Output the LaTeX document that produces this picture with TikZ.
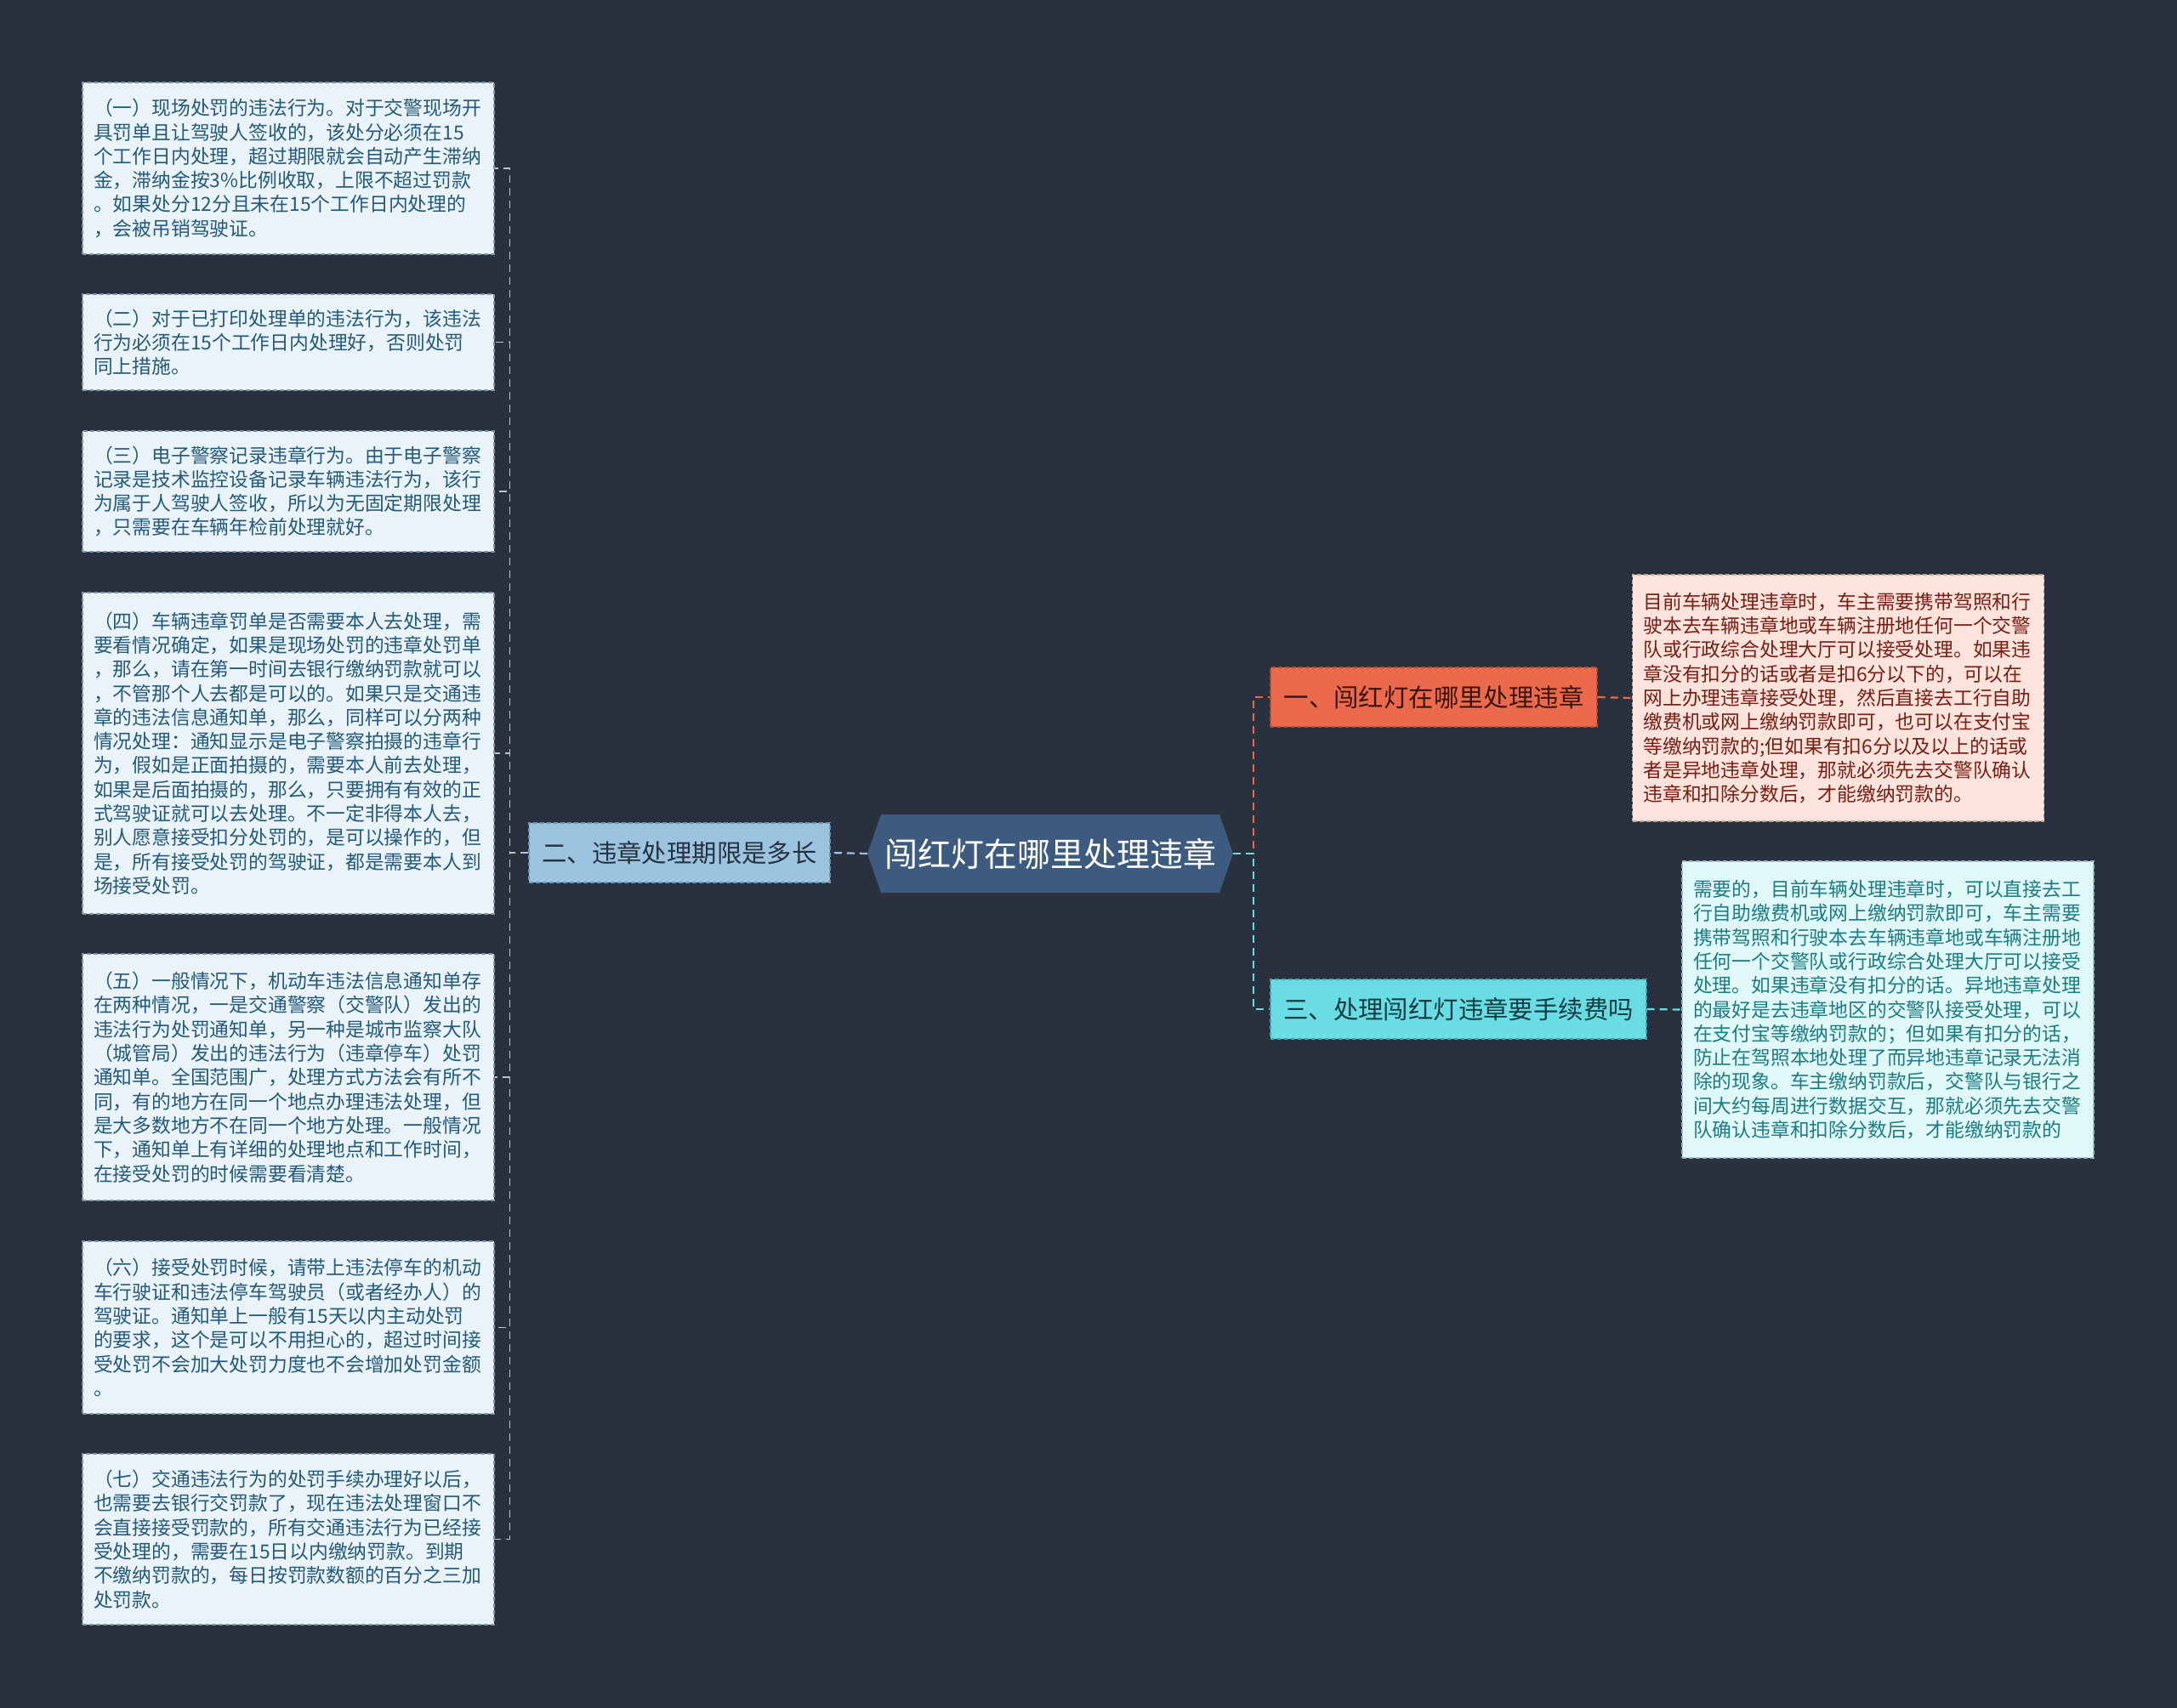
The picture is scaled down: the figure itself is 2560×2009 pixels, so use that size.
\documentclass[tikz,border=0pt]{standalone}
\usepackage{fontspec}
\setmainfont{Noto Sans CJK SC}
\definecolor{bg}{HTML}{29313F}
\definecolor{rootfill}{HTML}{3D5A7F}
\definecolor{bluefill}{HTML}{9CC3DF}
\definecolor{blueborder}{HTML}{6E95B4}
\definecolor{bluetext}{HTML}{26323F}
\definecolor{orfill}{HTML}{EC6A4C}
\definecolor{orborder}{HTML}{B84A32}
\definecolor{ortext}{HTML}{3A140C}
\definecolor{cyfill}{HTML}{6ADCE4}
\definecolor{cyborder}{HTML}{3FA9B2}
\definecolor{cytext}{HTML}{123C42}
\definecolor{lleaf}{HTML}{EAF3F9}
\definecolor{lleaftext}{HTML}{235A7C}
\definecolor{lleafborder}{HTML}{7F93A6}
\definecolor{rleafa}{HTML}{FCE3DC}
\definecolor{rleafatext}{HTML}{7A1D12}
\definecolor{rleafaborder}{HTML}{B9A29C}
\definecolor{rleafc}{HTML}{E1F8F9}
\definecolor{rleafctext}{HTML}{1B7C84}
\definecolor{rleafcborder}{HTML}{9DB5B8}
\definecolor{leftline}{HTML}{B5C6D3}
\begin{document}
\begin{tikzpicture}[x=1pt,y=-1pt,
  leaffont/.style={font=\fontsize{22.8}{28.3}\selectfont},
  leafbox/.style={leaffont, align=left, text width=458pt, inner xsep=13pt, inner ysep=8pt,
    line width=1.4pt, dash pattern=on 5pt off 3pt},
  lleafbox/.style={leafbox, fill=lleaf, draw=lleafborder, text=lleaftext},
  rabox/.style={leafbox, fill=rleafa, draw=rleafaborder, text=rleafatext},
  rcbox/.style={leafbox, fill=rleafc, draw=rleafcborder, text=rleafctext},
  branchbox/.style={font=\fontsize{29.4}{34}\selectfont, align=center, minimum height=70pt,
    inner sep=0pt, line width=1.4pt, dash pattern=on 5pt off 3pt},
  rootbox/.style={font=\fontsize{39}{46}\selectfont, text=white, minimum width=430pt,
    minimum height=92pt, inner sep=0pt,
    path picture={\fill[rootfill] (path picture bounding box.west)
      -- ([xshift=16pt]path picture bounding box.north west)
      -- ([xshift=-16pt]path picture bounding box.north east)
      -- (path picture bounding box.east)
      -- ([xshift=-16pt]path picture bounding box.south east)
      -- ([xshift=16pt]path picture bounding box.south west) -- cycle;}},
  conn/.style={line width=2.2pt, dash pattern=on 9pt off 6pt},
]
\fill[bg] (0,0) rectangle (2560,2009);
\useasboundingbox (0,0) rectangle (2560,2009);

% root and branches
\node[rootbox] (root) at (1235,1004) {闯红灯在哪里处理违章};
\node[branchbox, fill=bluefill, draw=blueborder, text=bluetext, minimum width=354pt] (b2) at (799,1003) {二、违章处理期限是多长};
\node[branchbox, fill=orfill, draw=orborder, text=ortext, minimum width=384pt] (b1) at (1686,820) {一、闯红灯在哪里处理违章};
\node[branchbox, fill=cyfill, draw=cyborder, text=cytext, minimum width=442pt] (b3) at (1715,1187) {三、处理闯红灯违章要手续费吗};

% right leaves
\node[rabox, minimum height=290pt] (r1) at (2161.5,821) {目前车辆处理违章时，车主需要携带驾照和行\\驶本去车辆违章地或车辆注册地任何一个交警\\队或行政综合处理大厅可以接受处理。如果违\\章没有扣分的话或者是扣6分以下的，可以在\\网上办理违章接受处理，然后直接去工行自助\\缴费机或网上缴纳罚款即可，也可以在支付宝\\等缴纳罚款的;但如果有扣6分以及以上的话或\\者是异地违章处理，那就必须先去交警队确认\\违章和扣除分数后，才能缴纳罚款的。};
\node[rcbox, minimum height=349pt] (r3) at (2220,1187.5) {需要的，目前车辆处理违章时，可以直接去工\\行自助缴费机或网上缴纳罚款即可，车主需要\\携带驾照和行驶本去车辆违章地或车辆注册地\\任何一个交警队或行政综合处理大厅可以接受\\处理。如果违章没有扣分的话。异地违章处理\\的最好是去违章地区的交警队接受处理，可以\\在支付宝等缴纳罚款的；但如果有扣分的话，\\防止在驾照本地处理了而异地违章记录无法消\\除的现象。车主缴纳罚款后，交警队与银行之\\间大约每周进行数据交互，那就必须先去交警\\队确认违章和扣除分数后，才能缴纳罚款的};

% left leaves
\node[lleafbox, minimum height=202pt] (L1) at (339,198) {（一）现场处罚的违法行为。对于交警现场开\\具罚单且让驾驶人签收的，该处分必须在15\\个工作日内处理，超过期限就会自动产生滞纳\\金，滞纳金按3\%比例收取，上限不超过罚款\\。如果处分12分且未在15个工作日内处理的\\，会被吊销驾驶证。};
\node[lleafbox, minimum height=113pt] (L2) at (339,402.5) {（二）对于已打印处理单的违法行为，该违法\\行为必须在15个工作日内处理好，否则处罚\\同上措施。};
\node[lleafbox, minimum height=142pt] (L3) at (339,578) {（三）电子警察记录违章行为。由于电子警察\\记录是技术监控设备记录车辆违法行为，该行\\为属于人驾驶人签收，所以为无固定期限处理\\，只需要在车辆年检前处理就好。};
\node[lleafbox, minimum height=378pt] (L4) at (339,886) {（四）车辆违章罚单是否需要本人去处理，需\\要看情况确定，如果是现场处罚的违章处罚单\\，那么，请在第一时间去银行缴纳罚款就可以\\，不管那个人去都是可以的。如果只是交通违\\章的违法信息通知单，那么，同样可以分两种\\情况处理：通知显示是电子警察拍摄的违章行\\为，假如是正面拍摄的，需要本人前去处理，\\如果是后面拍摄的，那么，只要拥有有效的正\\式驾驶证就可以去处理。不一定非得本人去，\\别人愿意接受扣分处罚的，是可以操作的，但\\是，所有接受处罚的驾驶证，都是需要本人到\\场接受处罚。};
\node[lleafbox, minimum height=290pt] (L5) at (339,1267) {（五）一般情况下，机动车违法信息通知单存\\在两种情况，一是交通警察（交警队）发出的\\违法行为处罚通知单，另一种是城市监察大队\\（城管局）发出的违法行为（违章停车）处罚\\通知单。全国范围广，处理方式方法会有所不\\同，有的地方在同一个地点办理违法处理，但\\是大多数地方不在同一个地方处理。一般情况\\下，通知单上有详细的处理地点和工作时间，\\在接受处罚的时候需要看清楚。};
\node[lleafbox, minimum height=203pt] (L6) at (339,1561.5) {（六）接受处罚时候，请带上违法停车的机动\\车行驶证和违法停车驾驶员（或者经办人）的\\驾驶证。通知单上一般有15天以内主动处罚\\的要求，这个是可以不用担心的，超过时间接\\受处罚不会加大处罚力度也不会增加处罚金额\\。};
\node[lleafbox, minimum height=201pt] (L7) at (339,1810.5) {（七）交通违法行为的处罚手续办理好以后，\\也需要去银行交罚款了，现在违法处理窗口不\\会直接接受罚款的，所有交通违法行为已经接\\受处理的，需要在15日以内缴纳罚款。到期\\不缴纳罚款的，每日按罚款数额的百分之三加\\处罚款。};

% connectors
\draw[conn, bluefill] (root.west) -- (b2.east);
\draw[conn, orfill] (root.east) -- ++(24,0) |- (b1.west);
\draw[conn, cyfill] (root.east) -- ++(24,0) |- (b3.west);
\draw[conn, orfill] (b1.east) -- (r1.west);
\draw[conn, cyfill] (b3.east) -- (r3.west);
\foreach \n in {L1,L2,L3,L4,L5,L6,L7}{
  \draw[conn, leftline, line width=1.6pt] (b2.west) -- ++(-22,0) |- (\n.east);
}
\end{tikzpicture}
\end{document}
